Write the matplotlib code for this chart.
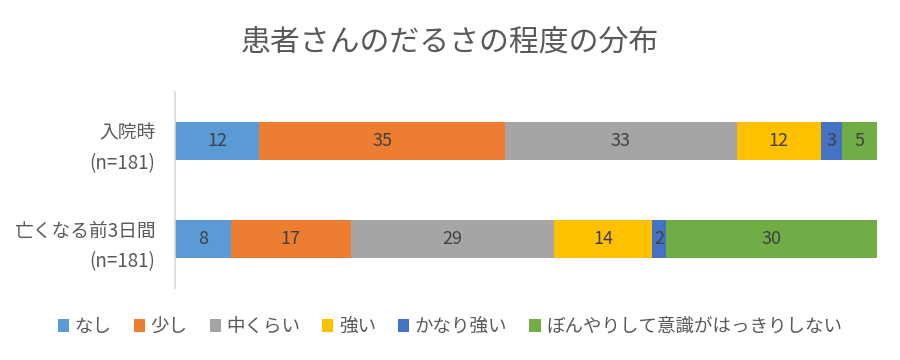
import numpy as np
import matplotlib.pyplot as plt
import matplotlib as mpl

mpl.rcParams['font.family'] = ['Noto Sans CJK JP', 'DejaVu Sans']

categories = ['入院時\n(n=181)', '亡くなる前3日間\n(n=181)']
series = ['なし', '少し', '中くらい', '強い', 'かなり強い', 'ぼんやりして意識がはっきりしない']
values = [
    [12, 8],
    [35, 17],
    [33, 29],
    [12, 14],
    [3, 2],
    [5, 30],
]
colors = ['#5B9BD5', '#ED7D31', '#A5A5A5', '#FFC000', '#4472C4', '#70AD47']

fig = plt.figure(figsize=(9, 3.6), dpi=100)
ax = fig.add_axes([175/900, 1-288/360, 702/900, 196/360])

y = np.arange(len(categories))
left = np.zeros(len(categories))
for name, vals, c in zip(series, values, colors):
    vals = np.array(vals, dtype=float)
    bars = ax.barh(y, vals, left=left, height=0.39, color=c, label=name)
    for b, v in zip(bars, vals):
        ax.text(b.get_x() + b.get_width()/2, b.get_y() + b.get_height()/2, '%d' % v,
                ha='center', va='center', fontsize=13, color='#404040')
    left += vals

ax.set_xlim(0, 100)
ax.set_ylim(1.5, -0.5)
ax.set_yticks(y)
ax.set_yticklabels(categories, fontsize=13.5, color='#595959', linespacing=1.6, ha='right')
ax.tick_params(axis='y', length=0, pad=14)
ax.set_xticks([])
for s in ['top', 'right', 'bottom']:
    ax.spines[s].set_visible(False)
ax.spines['left'].set_color('#D9D9D9')
ax.spines['left'].set_linewidth(1.2)

fig.text(0.5, 1-42/360, '患者さんのだるさの程度の分布', ha='center', va='center',
         fontsize=21.5, color='#595959')

fig.legend(loc='center', bbox_to_anchor=(0.5, 1-327/360), ncol=6, frameon=False,
           fontsize=13.3, handlelength=0.6, handleheight=0.7, handletextpad=0.3,
           columnspacing=1.2, labelcolor='#595959')

fig.savefig('out.png', dpi=100)
